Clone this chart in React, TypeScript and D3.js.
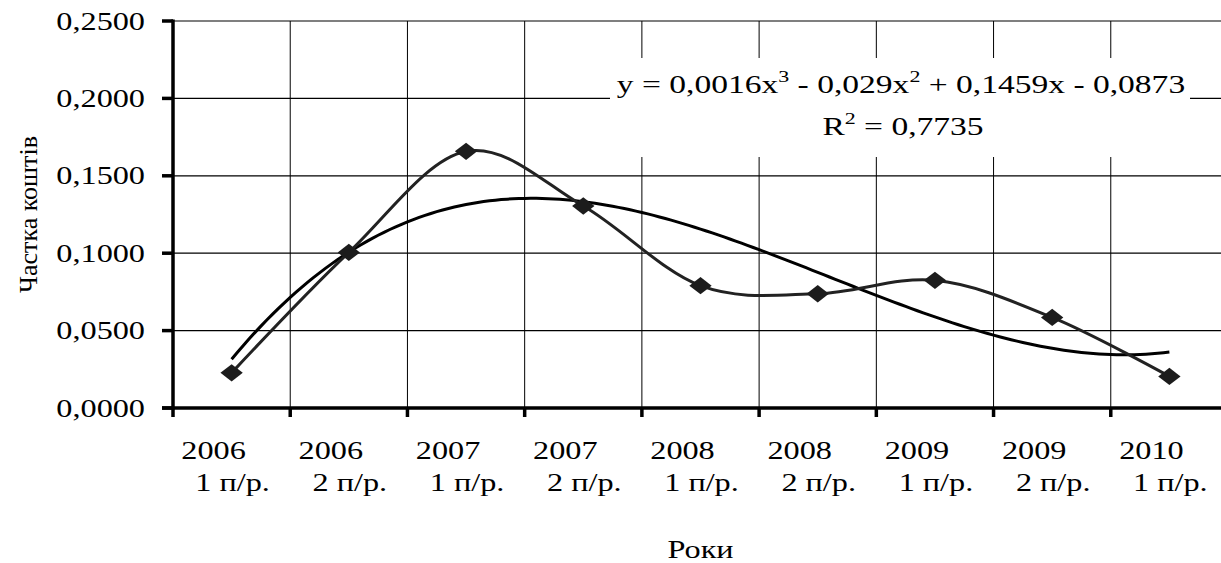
import React from "react";
import * as d3 from "d3";

// ---- data ----
const years = ["2006", "2006", "2007", "2007", "2008", "2008", "2009", "2009", "2010"];
const halves = ["1 п/р.", "2 п/р.", "1 п/р.", "2 п/р.", "1 п/р.", "2 п/р.", "1 п/р.", "2 п/р.", "1 п/р."];
const shares = [0.0227, 0.1005, 0.1658, 0.1305, 0.079, 0.0738, 0.0825, 0.0585, 0.0204];
const yTicks = [0, 0.05, 0.1, 0.15, 0.2, 0.25];
const eqTerms = ["0,0016x", "3", " - 0,029x", "2", " + 0,1459x - 0,0873"];
const r2Text = "0,7735";
const yTitle = "Частка коштів";
const xTitle = "Роки";

// ---- layout ----
const W = 1221;
const H = 563;
const L = 173;
const R = 1228;
const T = 21;
const B = 408;
const SX = 1.29; // horizontal glyph stretch of the original picture
const FONT = "'Liberation Serif', 'Times New Roman', serif";

function cubicFit(xs: number[], ys: number[]): number[] {
  // least squares for y = c0 + c1 x + c2 x^2 + c3 x^3
  const n = 4;
  const A: number[][] = [];
  for (let i = 0; i < n; i++) {
    A.push(new Array(n + 1).fill(0));
    for (let j = 0; j < n; j++) {
      A[i][j] = d3.sum(xs, (x) => Math.pow(x, i + j));
    }
    A[i][n] = d3.sum(xs.map((x, k) => Math.pow(x, i) * ys[k]));
  }
  for (let c = 0; c < n; c++) {
    let p = c;
    for (let r = c + 1; r < n; r++) if (Math.abs(A[r][c]) > Math.abs(A[p][c])) p = r;
    [A[c], A[p]] = [A[p], A[c]];
    for (let r = 0; r < n; r++) {
      if (r === c) continue;
      const f = A[r][c] / A[c][c];
      for (let k = c; k <= n; k++) A[r][k] -= f * A[c][k];
    }
  }
  return A.map((row, i) => row[n] / row[i]);
}

function SText(props: any) {
  const { x, y, anchor = "middle", size = 25, children, ...rest } = props;
  return (
    <text
      transform={`translate(${x},${y}) scale(${SX},1)`}
      textAnchor={anchor}
      fontFamily={FONT}
      fontSize={size}
      fill="#000"
      {...rest}
    >
      {children}
    </text>
  );
}

export default function App() {
  const idx = years.map((_, i) => String(i));
  const x = d3.scaleBand<string>().domain(idx).range([L, R]).paddingInner(0).paddingOuter(0);
  const bw = x.bandwidth();
  const cx = (i: number) => (x(String(i)) as number) + bw / 2;
  const y = d3.scaleLinear().domain([0, 0.25]).range([B, T]);

  const pts: [number, number][] = shares.map((v, i) => [cx(i), y(v)]);
  const dataLine = d3.line().curve(d3.curveCardinal.tension(0))(pts) as string;

  const xs = shares.map((_, i) => i + 1);
  const coef = cubicFit(xs, shares);
  const trendX = d3.range(1, 9.0001, 0.05);
  const xPos = d3.scaleLinear().domain([1, 9]).range([cx(0), cx(8)]);
  const trendPts: [number, number][] = trendX.map((t) => [
    xPos(t),
    y(coef[0] + coef[1] * t + coef[2] * t * t + coef[3] * t * t * t),
  ]);
  const trendLine = d3.line()(trendPts) as string;

  const diamond = d3.symbol().type(d3.symbolSquare).size(150)() as string;

  const boundaries = idx.map((i) => x(i) as number).slice(1);

  return (
    <svg
      width={W}
      height={H}
      viewBox={`0 0 ${W} ${H}`}
      style={{ position: "absolute", left: 0, top: 0, background: "#fff" }}
    >
      <rect x={0} y={0} width={W} height={H} fill="#fff" />
      {/* horizontal gridlines */}
      {yTicks.slice(1).map((t) => (
        <line key={"h" + t} x1={L} x2={W} y1={y(t)} y2={y(t)} stroke="#000" strokeWidth={1.2} />
      ))}
      {/* vertical gridlines */}
      {boundaries.map((bx, i) => (
        <line key={"v" + i} x1={bx} x2={bx} y1={T} y2={B} stroke="#000" strokeWidth={1} />
      ))}

      {/* trend label box */}
      <rect x={610} y={58} width={580} height={99} fill="#fff" />
      <SText x={901} y={93} size={26}>
        y = {eqTerms[0]}
        <tspan fontSize={17} dy={-11}>{eqTerms[1]}</tspan>
        <tspan dy={11}>{eqTerms[2]}</tspan>
        <tspan fontSize={17} dy={-11}>{eqTerms[3]}</tspan>
        <tspan dy={11}>{eqTerms[4]}</tspan>
      </SText>
      <SText x={903} y={135} size={26}>
        R<tspan fontSize={17} dy={-11}>2</tspan>
        <tspan dy={11}>{" = " + r2Text}</tspan>
      </SText>

      {/* trend line */}
      <path d={trendLine} fill="none" stroke="#000" strokeWidth={3} strokeLinejoin="round" />
      {/* data line */}
      <path d={dataLine} fill="none" stroke="#222" strokeWidth={3} strokeLinejoin="round" />
      {pts.map(([px, py], i) => (
        <path
          key={"m" + i}
          d={diamond}
          transform={`translate(${px},${py}) scale(${SX},1) rotate(45)`}
          fill="#1c1c1c"
        />
      ))}

      {/* axes */}
      <line x1={L} x2={L} y1={T - 1.5} y2={B + 1.5} stroke="#000" strokeWidth={3.5} />
      <line x1={162} x2={W} y1={B} y2={B} stroke="#000" strokeWidth={3.5} />
      {yTicks.map((t) => (
        <line key={"yt" + t} x1={162} x2={L} y1={y(t)} y2={y(t)} stroke="#000" strokeWidth={3.5} />
      ))}
      {[L, ...boundaries].map((bx, i) => (
        <line key={"xt" + i} x1={bx} x2={bx} y1={B} y2={B + 9} stroke="#000" strokeWidth={3.5} />
      ))}

      {/* y tick labels */}
      {yTicks.map((t) => (
        <SText key={"yl" + t} x={145} y={y(t) + 8.5} anchor="end">
          {d3.format(".4f")(t).replace(".", ",")}
        </SText>
      ))}

      {/* x labels */}
      {years.map((yr, i) => (
        <g key={"xl" + i}>
          <SText x={cx(i) - 18} y={459}>{yr}</SText>
          <SText x={cx(i) + 1} y={491}>{halves[i]}</SText>
        </g>
      ))}

      {/* axis titles */}
      <text
        transform={`translate(37,${(T + B) / 2}) rotate(-90)`}
        textAnchor="middle"
        fontFamily={FONT}
        fontSize={26}
        fill="#000"
      >
        {yTitle}
      </text>
      <SText x={(L + R) / 2} y={558}>{xTitle}</SText>
    </svg>
  );
}
